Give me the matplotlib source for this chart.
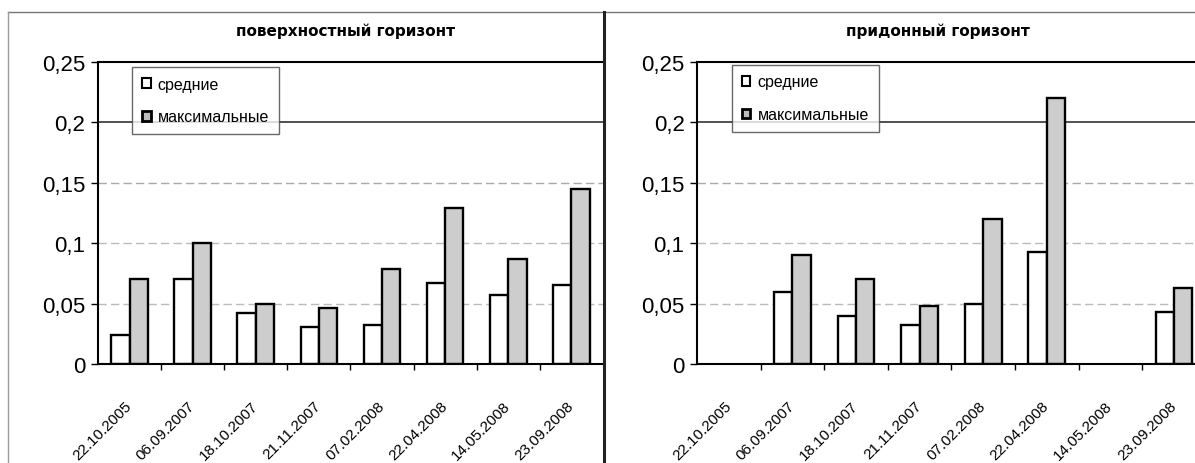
import numpy as np
import matplotlib
matplotlib.use('Agg')
import matplotlib.pyplot as plt
import matplotlib.transforms as mtransforms
from matplotlib.ticker import FuncFormatter, MultipleLocator
from matplotlib.lines import Line2D
from matplotlib.patches import Patch

plt.rcParams['font.family'] = ['Liberation Sans', 'DejaVu Sans']

# Даты отбора проб
dates = ['22.10.2005', '06.09.2007', '18.10.2007', '21.11.2007',
         '07.02.2008', '22.04.2008', '14.05.2008', '23.09.2008']

# поверхностный горизонт
surf_mean = [0.024, 0.070, 0.042, 0.031, 0.032, 0.067, 0.057, 0.065]
surf_max = [0.070, 0.100, 0.050, 0.046, 0.079, 0.129, 0.087, 0.145]

# придонный горизонт (нет данных -> nan)
bot_mean = [np.nan, 0.060, 0.040, 0.032, 0.050, 0.093, np.nan, 0.043]
bot_max = [np.nan, 0.090, 0.070, 0.048, 0.120, 0.220, np.nan, 0.063]

titles = ['поверхностный горизонт', 'придонный горизонт']
legend_labels = ['средние', 'максимальные']

fig = plt.figure(figsize=(11.95, 4.64), dpi=100)

# frames around the two chart areas (scanned look)
fig.add_artist(Line2D([0.007, 0.505], [0.971, 0.971], color='#777777', lw=1))
fig.add_artist(Line2D([0.007, 0.007], [0.0, 0.971], color='#999999', lw=1))
fig.add_artist(Line2D([0.506, 1.0], [0.973, 0.973], color='#777777', lw=1))
fig.add_artist(Line2D([0.5055, 0.5055], [0.0, 0.973], color='#222222', lw=2.2))

axes_pos = [[0.082, 0.2134, 0.4226, 0.6508], [0.5833, 0.2134, 0.4167, 0.6508]]
xlims = [(-0.5, 7.5), (-0.5, 7.33)]
title_x = [0.289, 0.785]
legend_pos = [(0.1105, 0.853), (0.6125, 0.858)]

fmt = FuncFormatter(lambda v, p: ('%g' % round(v, 2)).replace('.', ','))
x = np.arange(len(dates))
w = 0.29
shift = mtransforms.ScaledTranslation(-0.07, 0, fig.dpi_scale_trans)

for i, (mean, mx) in enumerate([(surf_mean, surf_max), (bot_mean, bot_max)]):
    ax = fig.add_axes(axes_pos[i])
    for yv, c, ls, lw in [(0.05, '#bbbbbb', (0, (6, 3)), 1), (0.1, '#bbbbbb', (0, (6, 3)), 1),
                          (0.15, '#aaaaaa', (0, (6, 3)), 1), (0.2, '#333333', '-', 1.2)]:
        ax.axhline(yv, color=c, ls=ls, lw=lw, zorder=0)
    ax.bar(x - w / 2, mean, w, color='white', edgecolor='black', lw=1.7, zorder=2)
    ax.bar(x + w / 2, mx, w, color='#cdcdcd', edgecolor='black', lw=1.7, zorder=2)

    ax.set_xlim(*xlims[i])
    ax.set_ylim(0, 0.25)
    ax.yaxis.set_major_locator(MultipleLocator(0.05))
    ax.yaxis.set_major_formatter(fmt)
    ax.tick_params(axis='y', labelsize=16, length=5, width=1, direction='out', pad=4)
    ax.set_xticks(x)
    ax.set_xticklabels(dates, rotation=45, ha='right', va='center',
                       rotation_mode='anchor', fontsize=11)
    for lbl in ax.get_xticklabels():
        lbl.set_transform(lbl.get_transform() + shift)
    ax.tick_params(axis='x', length=0, pad=28)
    ax.set_xticks(np.arange(0.5, len(dates) - 0.5, 1), minor=True)
    ax.tick_params(axis='x', which='minor', length=4, width=1, direction='out')

    ax.spines['right'].set_visible(False)
    for s in ['left', 'bottom', 'top']:
        ax.spines[s].set_linewidth(1.5)
        ax.spines[s].set_color('black')

    fig.text(title_x[i], 0.933, titles[i], ha='center', va='center',
             fontsize=11, fontweight='bold', family='DejaVu Sans')

    handles = [Patch(facecolor='white', edgecolor='black', lw=1.5),
               Patch(facecolor='#bdbdbd', edgecolor='black', lw=2)]
    leg = ax.legend(handles, legend_labels, loc='upper left',
                    bbox_to_anchor=legend_pos[i], bbox_transform=fig.transFigure,
                    fontsize=11.5, frameon=True, fancybox=False, handlelength=0.56,
                    handleheight=0.56, handletextpad=0.45, labelspacing=1.1,
                    borderpad=0.6, borderaxespad=0)
    leg.get_frame().set_edgecolor('#444444')
    leg.get_frame().set_linewidth(1)
    leg.set_zorder(5)

fig.savefig('out.png', dpi=100)
